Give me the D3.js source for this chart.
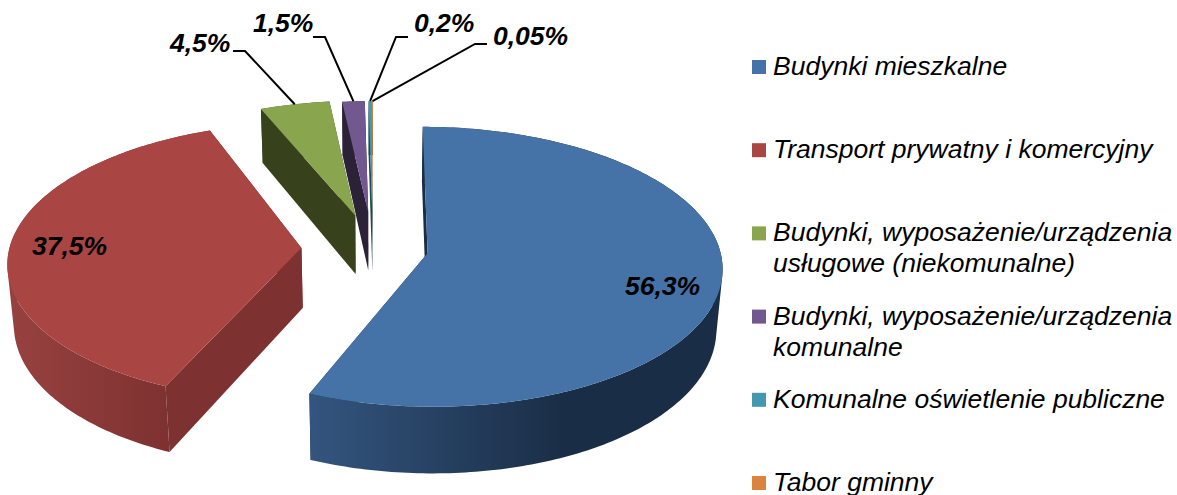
<!DOCTYPE html>
<html>
<head>
<meta charset="utf-8">
<script src="https://cdn.jsdelivr.net/npm/d3@7"></script>
<style>
  html, body { margin: 0; padding: 0; background: #fff; overflow: hidden; }
  text { font-family: "Liberation Sans", Arial, sans-serif; font-style: italic; fill: #000; }
</style>
</head>
<body>
<div id="chart"></div>
<script>
// values
var values = [56.3, 37.5, 4.5, 1.5, 0.2, 0.05];
var valueLabels = ["56,3%", "37,5%", "4,5%", "1,5%", "0,2%", "0,05%"];
var legendLabels = [
  ["Budynki mieszkalne"],
  ["Transport prywatny i komercyjny"],
  ["Budynki, wyposażenie/urządzenia", "usługowe (niekomunalne)"],
  ["Budynki, wyposażenie/urządzenia", "komunalne"],
  ["Komunalne oświetlenie publiczne"],
  ["Tabor gminny"]
];

// styling and layout
var topColors = ["#4572a7", "#a94543", "#89a54e", "#71588f", "#4198af", "#db843d"];
var wallColors = ["#1a2d46", "#7d3130", "#37421d", "#2c2238", "#1f4a55", "#6e411e"];
var rimFrom = ["#33557e", "#964140", "#4a5a28", "#3c2f4e", "#2a6070", "#8a5226"];
var rimTo = ["#1a2d46", "#7d3130", "#37421d", "#2c2238", "#1f4a55", "#6e411e"];
var rimX = [[310, 565], [15, 170], [264, 358], [345, 370], [371, 374], [372, 376]];
var explode = [0.19, 0.245, 0.25, 0.27, 0.27, 0.27];
var sliceRadius = [1, 1, 0.95, 0.92, 0.92, 0.92];
var twist = [0, 0.02, 0, 0, 0, 0];  // small rotation per slice, the original's 3D view is not a pure ellipse
var drawOrder = [5, 4, 3, 2, 1, 0];

// label position [x, baseline], leader elbow [start x, end x, y]
var labelPos = [[625, 295], [32, 255], [170, 52], [253, 32], [414, 32], [493, 45]];
var elbows = [null, null, [233, 245, 51], [313, 325, 37], [408, 396, 37], [487, 475, 44]];

var width = 1177, height = 495;

// perspective projection of the pie: u right, v towards viewer, h down the side
var cx = 373, cy = 248, rx = 292, ry = 137.6, depth = 60, k = 0.097, m = 0.018;
function project(u, v, h) {
  var sy = 1 / (1 - k * v);
  var sx = 1 / (1 - k * v + m * h);
  return [cx + rx * u * sx, cy + (ry * v + depth * h) * sy];
}

var svg = d3.select("#chart")
  .append("svg")
    .attr("width", width)
    .attr("height", height)
    .style("display", "block");

var defs = svg.append("defs");
var pie = d3.pie().sort(null).value(function(d) { return d; });
var arcs = pie(values);
var line = d3.line();

arcs.forEach(function(d, i) {
  d.index = i;
  d.a0 = d.startAngle + twist[i];
  d.a1 = d.endAngle + twist[i];
  d.mid = (d.a0 + d.a1) / 2;
  d.ou = explode[i] * Math.sin((d.startAngle + d.endAngle) / 2);
  d.ov = -explode[i] * Math.cos((d.startAngle + d.endAngle) / 2);
  var g = defs.append("linearGradient")
    .attr("id", "rim" + i)
    .attr("gradientUnits", "userSpaceOnUse")
    .attr("x1", rimX[i][0]).attr("x2", rimX[i][1])
    .attr("y1", 0).attr("y2", 0);
  g.append("stop").attr("offset", 0).attr("stop-color", rimFrom[i]);
  g.append("stop").attr("offset", 1).attr("stop-color", rimTo[i]);
});

function edgePoint(d, angle, h) {
  var r = sliceRadius[d.index];
  return project(d.ou + r * Math.sin(angle), d.ov - r * Math.cos(angle), h);
}
function apex(d, h) {
  return project(d.ou, d.ov, h);
}
function arcPoints(d, h) {
  var n = Math.max(2, Math.ceil((d.a1 - d.a0) * 60));
  return d3.range(n + 1).map(function(j) {
    return edgePoint(d, d.a0 + (d.a1 - d.a0) * j / n, h);
  });
}
// side of the slice as one path of small quads, so its outline follows the real silhouette
function rimPath(d) {
  var top = arcPoints(d, 0), bottom = arcPoints(d, 1);
  return d3.range(top.length - 1).map(function(j) {
    var quad = [top[j], top[j + 1], bottom[j + 1], bottom[j]];
    if (d3.polygonArea(quad) < 0) quad.reverse();
    return line(quad) + "Z";
  }).join("");
}
function wallPath(d, a) {
  return line([apex(d, 0), edgePoint(d, a, 0), edgePoint(d, a, 1), apex(d, 1)]) + "Z";
}

// Add slices, back ones first
drawOrder.forEach(function(i) {
  var d = arcs[i];
  var g = svg.append("g");

  g.append("path").attr("fill", wallColors[i]).attr("d", wallPath(d, d.a1));
  g.append("path").attr("fill", "url(#rim" + i + ")").attr("d", rimPath(d));
  g.append("path").attr("fill", wallColors[i]).attr("d", wallPath(d, d.a0));

  g.append("path")
    .attr("fill", topColors[i])
    .attr("d", line([apex(d, 0)].concat(arcPoints(d, 0))) + "Z");
});

// Add leader lines
arcs.forEach(function(d, i) {
  if (!elbows[i]) return;
  var e = elbows[i];
  svg.append("path")
    .attr("fill", "none")
    .attr("stroke", "#000")
    .attr("stroke-width", 2)
    .attr("d", line([[e[0], e[2]], [e[1], e[2]], edgePoint(d, d.mid, 0)]));
});

// Add value labels
svg.selectAll(".value")
  .data(valueLabels)
  .enter()
  .append("text")
    .attr("class", "value")
    .attr("x", function(d, i) { return labelPos[i][0]; })
    .attr("y", function(d, i) { return labelPos[i][1]; })
    .style("font-size", "26.5px")
    .style("font-weight", "bold")
    .text(function(d) { return d; });

// Add legend
var legendY = d3.scalePoint()
  .domain(d3.range(legendLabels.length))
  .range([74, 490]);

var legend = svg.selectAll(".legend")
  .data(legendLabels)
  .enter()
  .append("g")
    .attr("class", "legend")
    .attr("transform", function(d, i) { return "translate(0," + legendY(i) + ")"; });

legend.append("rect")
  .attr("x", 752)
  .attr("y", -14)
  .attr("width", 14)
  .attr("height", 14)
  .attr("fill", function(d, i) { return topColors[i]; });

legend.each(function(lines) {
  var g = d3.select(this);
  lines.forEach(function(t, j) {
    g.append("text")
      .attr("x", 773)
      .attr("y", 1 + j * 31)
      .style("font-size", "26.5px")
      .text(t);
  });
});
</script>
</body>
</html>
